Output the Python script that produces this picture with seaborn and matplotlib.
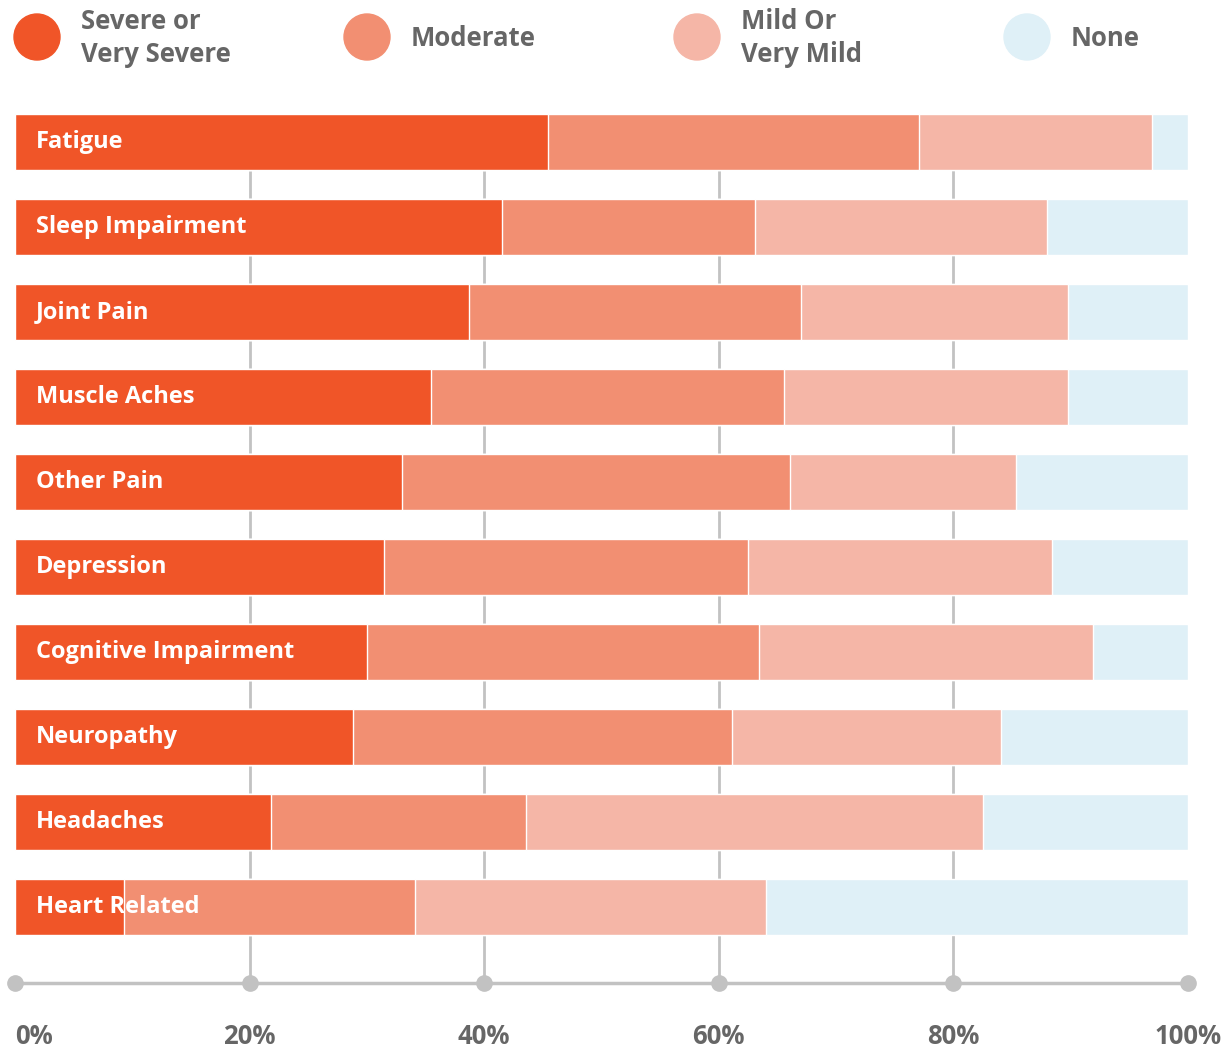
import numpy as np
import pandas as pd
import matplotlib
matplotlib.use("Agg")
import matplotlib.pyplot as plt
from matplotlib.patches import Ellipse
import seaborn as sns

# Symptom severity shares (percent)
symptoms = ["Fatigue", "Sleep Impairment", "Joint Pain", "Muscle Aches",
            "Other Pain", "Depression", "Cognitive Impairment", "Neuropathy",
            "Headaches", "Heart Related"]
severe = [45.4, 41.5, 38.7, 35.5, 33.0, 31.5, 30.0, 28.8, 21.8, 9.3]
moderate = [31.7, 21.6, 28.3, 30.1, 33.1, 31.0, 33.4, 32.3, 21.8, 24.8]
mild = [19.8, 24.9, 22.8, 24.2, 19.2, 25.9, 28.5, 23.0, 38.9, 29.9]
none = [3.1, 12.0, 10.2, 10.2, 14.7, 11.6, 8.1, 15.9, 17.5, 36.0]

legend_labels = ["Severe or\nVery Severe", "Moderate", "Mild Or\nVery Mild", "None"]
tick_values = [0, 20, 40, 60, 80, 100]
tick_labels = ["0%", "20%", "40%", "60%", "80%", "100%"]

colors = ["#F05528", "#F28F72", "#F5B6A7", "#DFF0F7"]
GRAY_TEXT = "#666666"
GRAY_LINE = "#C2C2C2"

sns.set_style("white")
plt.rcParams["font.family"] = ["Open Sans", "DejaVu Sans"]

df = pd.DataFrame({"symptom": symptoms, "severe": severe, "moderate": moderate,
                   "mild": mild, "none": none})
# cumulative ends so each layer is drawn over the longer one behind it
df["c_severe"] = df["severe"]
df["c_moderate"] = df["c_severe"] + df["moderate"]
df["c_mild"] = df["c_moderate"] + df["mild"]
df["c_none"] = df["c_mild"] + df["none"]

W, H = 1230, 1051
fig = plt.figure(figsize=(W / 100, H / 100), dpi=100)

left_px, right_px = 15, 1188
top_px, bottom_px = 100, 983
ax = fig.add_axes([left_px / W, 1 - bottom_px / H,
                   (right_px - left_px) / W, (bottom_px - top_px) / H])

for col, c in zip(["c_none", "c_mild", "c_moderate", "c_severe"], colors[::-1]):
    sns.barplot(data=df, x=col, y="symptom", orient="h", color=c,
                saturation=1, width=0.66, ax=ax, zorder=2)

y_axis = (bottom_px - 142) / 85
y_top = (top_px - 142) / 85
ax.set_ylim(y_axis, y_top)
ax.set_xlim(0, 100)

# vertical grid lines behind the bars
ax.vlines(tick_values[1:-1], -0.33, y_axis, colors=GRAY_LINE, lw=2, zorder=1)
# axis line with dots
ax.plot([0, 100], [y_axis, y_axis], color=GRAY_LINE, lw=2.5, clip_on=False, zorder=3)
ax.plot(tick_values, [y_axis] * len(tick_values), "o", color=GRAY_LINE, ms=11,
        clip_on=False, zorder=4)

for s in ax.spines.values():
    s.set_visible(False)
ax.set_xlabel("")
ax.set_ylabel("")
ax.set_yticks([])
ax.set_xticks(tick_values)
ax.set_xticklabels(tick_labels, fontsize=18.5, fontweight="bold", color=GRAY_TEXT)
ax.tick_params(axis="x", length=0, pad=29)
ax.get_xticklabels()[0].set_horizontalalignment("left")

for i, name in enumerate(symptoms):
    ax.text(0.018, i, name, transform=ax.get_yaxis_transform(), color="white",
            fontsize=17, fontweight="bold", va="center", ha="left", zorder=5)

# legend drawn in pixel coordinates
lax = fig.add_axes([0, 0, 1, 1], facecolor="none")
lax.set_xlim(0, W)
lax.set_ylim(H, 0)
lax.axis("off")
for k, (lab, c) in enumerate(zip(legend_labels, colors)):
    cx = 37 + 330 * k
    lax.add_patch(Ellipse((cx, 37), 46, 46, color=c))
    lax.text(cx + 44, 38, lab, fontsize=18.5, fontweight="bold", color=GRAY_TEXT,
             va="center", ha="left", linespacing=1.25)

fig.savefig("out.png", dpi=100)
